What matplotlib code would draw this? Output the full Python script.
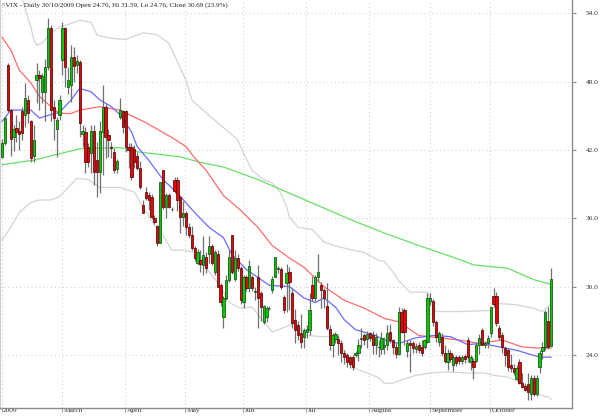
import matplotlib
matplotlib.use("Agg")
import matplotlib.pyplot as plt
import matplotlib.transforms as mtrans
import numpy as np
import pandas as pd

# ---------------- data ----------------
opens = [41.4,42.6,49.5,45.5,43.1,43.9,43.7,45.4,45.1,46.4,
         44.5,41.5,48.1,48.6,47.1,47.1,49.3,52.7,45.8,43.8,
         45.1,49.9,52.7,47.5,47.7,50.2,49.5,49.7,43.4,43.6,
         42.3,41.7,43.7,41.1,40.1,43.6,45.8,43.3,42.3,41.8,
         40.3,44.9,45.4,45.4,42.3,42.3,42.1,41.5,40.4,37.2,
         38.3,38.0,37.9,36.0,35.3,33.8,40.2,37.0,38.0,36.8,
         39.4,39.4,37.9,36.1,36.5,35.2,34.5,33.4,32.1,32.3,
         31.9,32.6,32.9,33.6,31.3,32.9,30.1,27.3,29.0,30.6,
         34.5,30.7,32.5,31.6,28.6,30.8,29.9,30.8,29.5,30.8,
         29.4,26.9,27.3,28.1,29.7,30.8,31.5,31.5,29.1,30.3,
         31.3,29.4,27.1,26.6,25.9,25.6,26.0,26.2,30.1,29.0,
         30.8,30.1,29.7,28.3,26.3,24.9,25.4,25.4,25.0,24.2,
         24.0,23.8,23.8,24.0,24.2,25.4,25.7,25.4,25.9,25.7,
         24.9,24.7,24.5,24.7,24.9,26.0,25.3,24.7,24.1,27.8,
         27.9,24.3,25.0,25.0,24.5,24.9,24.7,24.7,25.1,28.7,
         28.7,26.9,25.1,25.6,24.2,23.4,24.2,23.1,23.8,23.8,
         23.5,23.9,25.3,23.4,23.5,23.5,24.9,26.2,24.9,25.0,
         25.9,29.2,29.2,26.4,25.7,24.6,24.4,23.1,22.8,21.9,
         23.4,21.5,21.3,21.4,20.6,22.0,20.6,22.9,24.3,24.7,
         27.0,24.76]
highs = [43.0,45.0,49.6,45.6,44.2,45.1,44.5,45.8,47.9,46.8,
         44.6,44.2,49.6,49.0,48.8,50.0,53.6,53.0,46.4,44.9,
         46.8,53.2,52.8,49.3,51.2,51.0,50.3,49.9,44.2,44.0,
         42.6,44.2,44.2,42.7,44.5,47.7,46.0,43.8,42.7,42.2,
         41.2,46.6,45.5,45.5,42.6,42.6,42.4,41.8,41.0,37.6,
         38.7,38.3,38.1,36.3,35.4,39.2,40.2,38.2,38.2,37.0,
         39.6,39.6,38.0,37.5,36.6,35.6,35.3,33.6,33.3,33.2,
         34.4,33.0,34.4,33.7,33.2,33.2,30.3,29.2,31.0,33.2,
         34.5,33.2,32.9,31.8,31.0,31.0,32.3,31.0,30.0,31.9,
         29.6,28.4,28.3,28.3,30.9,32.6,31.8,31.7,29.3,32.0,
         31.7,29.9,28.0,27.0,27.6,26.4,26.6,29.4,30.9,31.0,
         32.9,30.4,29.9,30.3,26.6,25.9,26.0,25.7,25.3,24.4,
         24.2,23.9,24.0,24.3,25.4,26.4,25.9,26.1,26.0,26.1,
         25.9,25.3,26.0,25.6,26.6,26.7,25.4,25.0,28.2,28.1,
         28.1,25.3,25.3,25.2,25.0,25.1,25.3,25.4,29.4,29.4,
         28.9,27.1,26.1,25.9,24.9,24.5,24.4,24.1,24.0,24.0,
         24.0,24.1,25.6,24.0,23.7,25.1,25.8,26.4,25.2,25.7,
         28.2,29.9,29.5,26.6,26.0,24.8,24.6,24.1,23.2,23.1,
         23.6,22.4,21.5,22.4,22.2,22.2,22.2,24.4,25.1,27.9,
         28.2,31.59]
lows = [41.3,42.4,45.3,41.5,41.9,42.7,42.0,42.9,44.0,44.4,
        40.9,40.9,46.1,45.5,46.1,44.5,49.0,44.5,42.9,41.4,
        44.6,48.6,47.5,46.9,46.2,48.0,48.8,43.1,42.3,40.0,
        40.5,40.0,38.9,37.9,38.2,39.8,41.3,41.4,41.3,40.0,
        40.0,44.7,43.5,41.8,40.4,39.4,40.4,40.2,38.6,36.5,
        37.6,36.7,35.9,35.5,33.6,33.8,36.8,36.0,36.9,36.6,
        38.2,36.6,34.7,35.3,34.5,34.3,33.2,32.2,31.9,31.3,
        31.0,31.2,32.1,31.9,31.0,30.0,28.3,26.4,28.8,30.4,
        31.1,30.5,31.4,28.5,28.1,29.6,29.5,29.6,28.8,26.4,
        27.0,26.7,26.9,27.9,29.4,30.8,31.2,29.8,27.7,27.8,
        27.9,26.4,25.0,25.3,24.6,24.6,25.5,25.7,28.7,28.7,
        30.4,28.1,28.1,26.2,24.4,23.8,25.0,24.0,23.4,23.2,
        22.9,22.8,22.7,23.8,23.5,24.6,24.9,24.6,25.2,24.1,
        24.1,23.8,24.1,24.1,24.4,25.0,24.1,23.7,24.0,25.9,
        24.9,23.8,22.5,24.2,24.2,24.2,23.9,24.5,25.0,28.4,
        26.5,25.1,24.8,23.9,23.3,22.7,23.4,22.6,23.0,23.2,
        23.2,23.3,23.4,22.7,21.9,23.4,24.1,24.9,24.6,24.6,
        25.6,28.2,26.5,25.3,24.2,23.0,22.6,22.5,22.2,21.8,
        21.4,21.1,20.8,20.0,20.0,20.4,20.4,22.4,23.6,24.4,
        24.5,24.76]
closes = [42.6,44.8,45.5,43.0,43.8,43.6,43.4,43.5,46.6,45.2,
          41.3,42.9,48.6,48.3,48.5,49.3,52.7,45.5,44.8,44.6,
          46.4,52.7,49.3,48.1,50.2,49.4,49.8,44.4,43.7,40.9,
          40.9,43.7,40.1,40.1,43.7,45.8,43.1,42.9,42.2,40.2,
          41.0,45.5,44.0,42.3,42.0,39.6,40.9,40.4,38.7,36.5,
          37.8,37.6,36.1,35.7,33.8,39.2,37.0,38.0,37.0,36.8,
          38.4,37.6,36.1,36.5,35.2,34.5,33.4,32.5,33.0,32.0,
          32.8,31.6,33.6,32.1,33.0,30.0,28.6,29.0,30.6,32.6,
          31.3,32.5,31.6,28.8,30.8,29.9,31.8,29.9,29.6,29.0,
          28.2,28.3,28.1,28.1,30.7,32.6,31.6,30.0,27.9,31.2,
          30.4,26.8,26.2,25.7,25.1,26.2,26.3,27.9,29.0,30.8,
          31.3,29.7,29.0,26.4,24.9,25.7,25.8,25.0,24.2,23.8,
          23.4,23.2,22.9,24.2,24.9,25.5,25.3,25.8,25.5,24.9,
          25.6,24.7,25.5,24.9,25.9,25.3,24.7,24.1,27.8,26.0,
          26.0,25.0,24.9,24.6,24.8,24.4,24.2,25.3,29.0,29.0,
          26.9,25.6,25.9,24.2,23.5,24.2,23.6,23.8,23.3,23.5,
          23.8,23.6,23.8,23.8,22.9,24.9,25.5,24.9,25.0,25.5,
          28.2,28.5,26.8,25.6,24.7,24.0,22.9,22.8,22.5,22.8,
          21.5,21.2,20.9,20.7,22.0,20.6,22.0,24.2,24.7,27.8,
          24.7,30.69]

holidays = ["2009-02-16", "2009-04-10", "2009-05-25", "2009-07-03", "2009-09-07"]
start_date = "2009-01-29"
end_date = "2009-10-30"

# moving-average / band lines: (trading-day index, value)
ma_fast_idx = [0,3,10,13,17,20,24,27,31,34,38,41,45,47,51,56,61,67,72,77,80,85,89,93,100,105,109,112,116,119,123,126,130,133,138,144,150,156,162,167,173,179,187,191]
ma_fast_val = [44.5,45.5,45.5,44.8,45.1,45.3,46.4,47.4,47.1,46.4,45.8,45.1,43.6,42.3,41.1,39.4,38.2,36.5,35.2,34.3,32.8,31.5,30.8,30.1,30.0,29.0,28.6,29.0,28.2,27.1,26.2,26.0,25.7,25.3,25.0,25.5,25.7,25.6,24.9,25.0,24.7,24.4,23.8,23.8]
ma_mid_idx = [0,3,6,10,13,17,20,24,27,34,41,50,59,64,67,71,77,83,89,94,100,105,112,119,126,133,138,145,152,159,166,174,181,186,191]
ma_mid_val = [51.9,50.8,49.0,47.9,46.7,45.8,45.2,45.2,45.5,45.8,45.5,44.4,43.1,42.3,41.3,40.2,38.0,36.7,35.2,33.6,32.5,31.7,30.0,28.8,28.1,27.2,26.9,25.7,25.5,25.3,25.0,25.3,24.7,24.6,24.6]
ma_slow_idx = [0,11,27,41,48,62,69,77,89,100,122,133,145,160,164,176,185,191]
ma_slow_val = [40.7,41.1,42.1,42.2,41.8,41.4,40.9,40.5,39.4,38.2,35.8,34.7,33.6,32.3,31.9,31.6,30.6,30.2]
band_up_idx = [0,7,10,11,12,14,17,20,24,27,31,33,38,43,49,54,58,60,64,66,69,74,82,84,87,91,94,97,99,100,103,108,112,117,122,126,131,133,136,138,142,148,151,159,170,173,179,185,188,191]
band_up_val = [58.5,55.2,52.8,51.7,51.2,51.4,52.3,52.8,53.1,53.4,53.2,52.1,51.8,51.7,52.3,52.1,51.4,50.3,48.1,46.4,45.7,44.6,42.9,41.7,40.2,39.4,39.1,38.2,37.0,36.1,35.2,35.0,33.9,33.5,33.2,33.0,32.3,32.2,31.3,30.5,29.5,29.5,27.8,27.8,27.9,28.5,28.4,28.1,27.8,28.5]
band_lo_idx = [0,3,6,10,13,17,20,23,26,30,34,41,46,49,53,56,59,63,67,69,72,76,79,83,87,91,94,98,102,106,111,115,118,122,126,131,133,136,139,144,149,155,162,168,171,176,181,185,190,191]
band_lo_val = [34.1,35.2,36.5,37.4,37.6,37.6,37.9,38.7,39.5,39.4,38.7,38.7,38.3,37.0,35.4,34.5,33.2,33.2,33.0,32.6,31.3,30.0,28.6,28.1,28.2,26.9,26.0,26.4,26.8,25.7,25.6,25.6,24.9,22.9,22.5,22.0,21.5,21.5,21.8,22.2,22.4,22.5,22.4,22.4,22.2,22.05,21.5,20.6,20.3,20.1]

y_ticks = [24.0, 30.0, 36.0, 42.0, 48.0, 54.0]
month_labels = ["2009", "March", "April", "May", "Jun", "Jul", "August", "September", "October"]
title = "^VIX - Daily 30/10/2009 Open 24.76, Hi 31.59, Lo 24.76, Close 30.69 (23.9%)"

# ---------------- build ----------------
dates = pd.bdate_range(start_date, end_date, freq="C", holidays=holidays)
n = min(len(dates), len(opens), len(highs), len(lows), len(closes))
dates = dates[:n]
o = np.array(opens[:n]); h = np.array(highs[:n]); l = np.array(lows[:n]); c = np.array(closes[:n])
idx = np.arange(n)

tick_pos = [0]
for m in range(3, 11):
    w = np.where(dates.month == m)[0]
    if len(w):
        tick_pos.append(int(w[0]))

serif = ["Liberation Serif", "DejaVu Serif"]

fig = plt.figure(figsize=(6.0, 4.16), dpi=100)
ax = fig.add_axes([0.0, 8/416, 572/600, 408/416])
ax.set_xlim(-0.73, 198.3)
ax.set_ylim(19.33, 55.17)

# grid
for yv in y_ticks:
    ax.axhline(yv, color="#c8c8c8", lw=0.7, ls=(0, (1, 3)), zorder=0)
for tp in tick_pos:
    ax.axvline(tp - 0.2, color="#c8c8c8", lw=0.7, ls=(0, (1, 3)), zorder=0)

# lines
ax.plot(band_up_idx, band_up_val, color="#d4d4d4", lw=0.9, zorder=1)
ax.plot(band_lo_idx, band_lo_val, color="#d4d4d4", lw=0.9, zorder=1)
ax.plot(ma_slow_idx, ma_slow_val, color="#66e066", lw=0.9, zorder=1)
ax.plot(ma_mid_idx, ma_mid_val, color="#ff6b6b", lw=0.9, zorder=1)
ax.plot(ma_fast_idx, ma_fast_val, color="#6a6aff", lw=0.9, zorder=1)

# candles
ax.vlines(idx, l, h, color="#707070", lw=0.9, zorder=2)
up = c >= o
body_bot = np.minimum(o, c)
body_h = np.abs(c - o)
colors = np.where(up, "#00cc00", "#ee0000")
edges = np.where(up, "#104010", "#400000")
ax.bar(idx, body_h, bottom=body_bot, width=0.78, color=colors, edgecolor=edges,
       linewidth=0.5, zorder=3)

# axes styling
ax.spines["top"].set_visible(False)
ax.spines["left"].set_color("#d0d0d0")
ax.spines["bottom"].set_color("#8c8c8c")
ax.spines["right"].set_color("#8c8c8c")
for s in ["left", "bottom", "right"]:
    ax.spines[s].set_linewidth(1.0)

ax.yaxis.tick_right()
ax.set_yticks(y_ticks)
ax.set_yticklabels([f"{v:.1f}" for v in y_ticks], fontfamily=serif, fontsize=5.3, color="#333333")
ax.tick_params(axis="y", direction="out", length=3, width=0.8, color="#8c8c8c", pad=7)

ax.set_xticks([tp - 0.2 for tp in tick_pos])
ax.set_xticklabels(month_labels[:len(tick_pos)], fontfamily=serif, fontsize=5.3,
                   color="#333333", ha="left")
ax.tick_params(axis="x", direction="out", length=3, width=0.6, color="#8c8c8c", pad=-2.8)
offset = mtrans.ScaledTranslation(1.5/100, 0, fig.dpi_scale_trans)
for lab in ax.get_xticklabels():
    lab.set_transform(lab.get_transform() + offset)

fig.text(2/600, 1 - 5/416, title, fontfamily=serif, fontsize=5.15, color="#222222",
         ha="left", va="center")

fig.savefig("out.png", dpi=100)
